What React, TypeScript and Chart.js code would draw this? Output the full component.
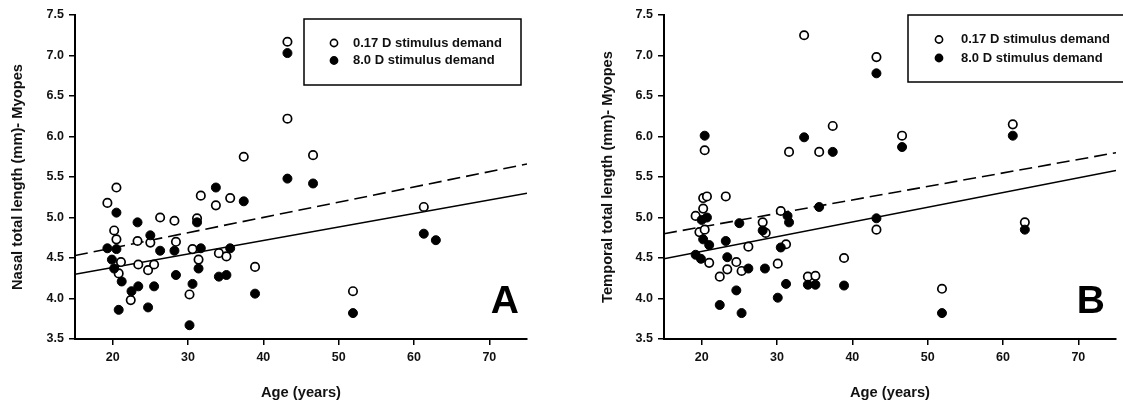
import React, { useEffect, useRef } from 'react';
import { Chart, registerables } from 'chart.js';

Chart.register(...registerables);

// ---------- DATA ----------
const legendLabels = ['0.17 D stimulus demand', '8.0 D stimulus demand'];
const xTickValues = [20, 30, 40, 50, 60, 70];
const lineAgeRange = [15, 75];

// Panel A – nasal
const nasalOpenAge = [19.3, 20.5, 20.2, 20.5, 21.1, 20.8, 22.4, 23.3, 23.4, 24.7, 25.0, 25.5, 26.3, 28.2, 28.4, 30.2, 30.6, 31.2, 31.4, 31.7, 33.7, 34.1, 35.1, 35.6, 37.4, 38.9, 43.2, 43.2, 46.6, 51.9, 61.3];
const nasalOpenVal = [5.18, 5.37, 4.84, 4.73, 4.45, 4.31, 3.98, 4.71, 4.42, 4.35, 4.69, 4.42, 5.0, 4.96, 4.7, 4.05, 4.61, 4.99, 4.48, 5.27, 5.15, 4.56, 4.52, 5.24, 5.75, 4.39, 7.17, 6.22, 5.77, 4.09, 5.13];
const nasalFilledAge = [19.3, 20.5, 20.5, 19.9, 20.2, 21.2, 20.8, 22.5, 23.4, 23.3, 24.7, 25.0, 25.5, 26.3, 28.2, 28.4, 30.2, 30.6, 31.2, 31.4, 31.7, 33.7, 34.1, 35.1, 35.6, 37.4, 38.9, 43.2, 43.2, 46.6, 61.3, 62.9, 51.9];
const nasalFilledVal = [4.62, 5.06, 4.61, 4.48, 4.37, 4.21, 3.86, 4.09, 4.15, 4.94, 3.89, 4.78, 4.15, 4.59, 4.59, 4.29, 3.67, 4.18, 4.94, 4.37, 4.62, 5.37, 4.27, 4.29, 4.62, 5.2, 4.06, 7.03, 5.48, 5.42, 4.8, 4.72, 3.82];
const nasalDashedFit = [4.53, 5.66];
const nasalSolidFit = [4.3, 5.3];

// Panel B – temporal
const tempOpenAge = [19.2, 20.2, 20.7, 20.2, 19.7, 20.4, 21.0, 23.2, 22.4, 23.4, 24.6, 25.3, 26.2, 28.1, 28.5, 30.1, 30.5, 31.2, 34.1, 35.1, 20.4, 33.6, 31.6, 35.6, 37.4, 38.9, 43.2, 51.9, 62.9, 43.2, 46.6, 61.3];
const tempOpenVal = [5.02, 5.24, 5.26, 5.11, 4.82, 4.85, 4.44, 5.26, 4.27, 4.36, 4.45, 4.34, 4.64, 4.94, 4.81, 4.43, 5.08, 4.67, 4.27, 4.28, 5.83, 7.25, 5.81, 5.81, 6.13, 4.5, 4.85, 4.12, 4.94, 6.98, 6.01, 6.15];
const tempFilledAge = [19.2, 19.9, 20.0, 20.7, 20.2, 21.0, 23.2, 23.4, 22.4, 24.6, 25.0, 25.3, 26.2, 28.1, 28.4, 30.1, 30.5, 31.2, 31.4, 31.6, 34.1, 35.1, 35.6, 20.4, 33.6, 37.4, 38.9, 43.2, 51.9, 62.9, 43.2, 46.6, 61.3];
const tempFilledVal = [4.54, 4.49, 4.97, 5.0, 4.73, 4.66, 4.71, 4.51, 3.92, 4.1, 4.93, 3.82, 4.37, 4.84, 4.37, 4.01, 4.63, 4.18, 5.02, 4.94, 4.17, 4.17, 5.13, 6.01, 5.99, 5.81, 4.16, 4.99, 3.82, 4.85, 6.78, 5.87, 6.01];
const tempDashedFit = [4.8, 5.8];
const tempSolidFit = [4.49, 5.58];

// ---------- STYLE ----------
const FONT = "'Liberation Sans', Arial, Helvetica, sans-serif";
const INK = '#111';

const zip = (xs: number[], ys: number[]) => xs.map((x, i) => ({ x, y: ys[i] }));

const boxLegend = {
  id: 'boxLegend',
  afterDatasetsDraw(chart: any, _args: any, opts: any) {
    const ctx = chart.ctx as CanvasRenderingContext2D;
    ctx.save();
    // box
    ctx.lineWidth = 1.5;
    ctx.strokeStyle = '#000';
    ctx.strokeRect(opts.x, opts.y, opts.w, opts.h);
    // entries
    const sets = chart.data.datasets.filter((d: any) => d.legendItem);
    sets.sort((a: any, b: any) => a.legendItem - b.legendItem);
    ctx.font = `bold 13px ${FONT}`;
    ctx.textBaseline = 'middle';
    ctx.textAlign = 'left';
    sets.forEach((d: any, i: number) => {
      const cy = opts.itemY + i * opts.itemGap;
      ctx.beginPath();
      ctx.arc(opts.markerX, cy, 3.6, 0, Math.PI * 2);
      ctx.fillStyle = d.backgroundColor;
      ctx.fill();
      ctx.lineWidth = 1.6;
      ctx.strokeStyle = d.borderColor;
      ctx.stroke();
      ctx.fillStyle = INK;
      ctx.fillText(d.label, opts.textX, cy);
    });
    // panel letter
    ctx.font = `bold 39px ${FONT}`;
    ctx.textAlign = 'right';
    ctx.textBaseline = 'alphabetic';
    ctx.fillStyle = '#000';
    ctx.fillText(opts.letter, opts.letterX, opts.letterY);
    ctx.restore();
  },
};

interface PanelSpec {
  yTitle: string;
  openAge: number[];
  openVal: number[];
  filledAge: number[];
  filledVal: number[];
  dashed: number[];
  solid: number[];
  yAxisWidth: number;
  padRight: number;
  legend: any;
}

function makeConfig(p: PanelSpec): any {
  return {
    type: 'scatter',
    data: {
      datasets: [
        {
          type: 'line',
          label: 'dashed fit',
          data: zip(lineAgeRange, p.dashed),
          borderColor: '#000',
          borderWidth: 1.6,
          borderDash: [13, 6],
          pointRadius: 0,
          fill: false,
          order: 2,
        },
        {
          type: 'line',
          label: 'solid fit',
          data: zip(lineAgeRange, p.solid),
          borderColor: '#000',
          borderWidth: 1.6,
          pointRadius: 0,
          fill: false,
          order: 2,
        },
        {
          label: legendLabels[0],
          legendItem: 1,
          data: zip(p.openAge, p.openVal),
          backgroundColor: '#fff',
          borderColor: '#000',
          borderWidth: 1.7,
          pointRadius: 4.2,
          order: 1,
        },
        {
          label: legendLabels[1],
          legendItem: 2,
          data: zip(p.filledAge, p.filledVal),
          backgroundColor: '#000',
          borderColor: '#000',
          borderWidth: 1,
          pointRadius: 4.5,
          order: 0,
        },
      ],
    },
    options: {
      responsive: false,
      animation: false,
      events: [],
      layout: { padding: { left: 0, right: p.padRight, top: 15, bottom: 0 } },
      plugins: {
        legend: { display: false },
        tooltip: { enabled: false },
        boxLegend: p.legend,
      },
      scales: {
        x: {
          type: 'linear',
          min: 15,
          max: 75,
          afterBuildTicks: (s: any) => {
            s.ticks = xTickValues.map((v) => ({ value: v }));
          },
          afterFit: (s: any) => {
            s.height = 66;
          },
          grid: { display: true, drawOnChartArea: false, drawTicks: true, tickLength: 6, color: '#000', lineWidth: 1.5 },
          border: { display: true, color: '#000', width: 2 },
          ticks: { font: { family: FONT, size: 12.5, weight: 'bold' }, color: INK, padding: 5, maxRotation: 0 },
          title: {
            display: true,
            text: 'Age (years)',
            font: { family: FONT, size: 14.7, weight: 'bold' },
            color: INK,
            padding: { top: 0, bottom: 3 },
          },
        },
        y: {
          type: 'linear',
          min: 3.5,
          max: 7.5,
          afterFit: (s: any) => {
            s.width = p.yAxisWidth;
          },
          grid: { display: true, drawOnChartArea: false, drawTicks: true, tickLength: 6, color: '#000', lineWidth: 1.5 },
          border: { display: true, color: '#000', width: 2 },
          ticks: {
            stepSize: 0.5,
            font: { family: FONT, size: 12.5, weight: 'bold' },
            color: INK,
            padding: 5,
            callback: (v: any) => Number(v).toFixed(1),
          },
          title: {
            display: true,
            text: p.yTitle,
            font: { family: FONT, size: 14.7, weight: 'bold' },
            color: INK,
            padding: { top: 9, bottom: 0 },
          },
        },
      },
    },
    plugins: [boxLegend],
  };
}

const panelA: PanelSpec = {
  yTitle: 'Nasal total length (mm)- Myopes',
  openAge: nasalOpenAge,
  openVal: nasalOpenVal,
  filledAge: nasalFilledAge,
  filledVal: nasalFilledVal,
  dashed: nasalDashedFit,
  solid: nasalSolidFit,
  yAxisWidth: 75,
  padRight: 33,
  legend: { x: 304, y: 19, w: 217, h: 66, markerX: 334, textX: 353, itemY: 43, itemGap: 17.5, letter: 'A', letterX: 519, letterY: 313 },
};

const panelB: PanelSpec = {
  yTitle: 'Temporal total length (mm)- Myopes',
  openAge: tempOpenAge,
  openVal: tempOpenVal,
  filledAge: tempFilledAge,
  filledVal: tempFilledVal,
  dashed: tempDashedFit,
  solid: tempSolidFit,
  yAxisWidth: 74,
  padRight: 7,
  legend: { x: 318, y: 15, w: 230, h: 67, markerX: 349, textX: 371, itemY: 39.5, itemGap: 18.5, letter: 'B', letterX: 515, letterY: 313 },
};

function Panel({ spec, left, width }: { spec: PanelSpec; left: number; width: number }) {
  const ref = useRef<HTMLCanvasElement | null>(null);
  useEffect(() => {
    if (!ref.current) return;
    const chart = new Chart(ref.current, makeConfig(spec));
    return () => chart.destroy();
  }, [spec]);
  return (
    <canvas
      ref={ref}
      width={width}
      height={405}
      style={{ position: 'absolute', left, top: 0, width, height: 405, display: 'block' }}
    />
  );
}

export default function App() {
  return (
    <div style={{ position: 'absolute', left: 0, top: 0, width: 1123, height: 405, background: '#fff', overflow: 'hidden' }}>
      <Panel spec={panelA} left={0} width={560} />
      <Panel spec={panelB} left={590} width={533} />
    </div>
  );
}
